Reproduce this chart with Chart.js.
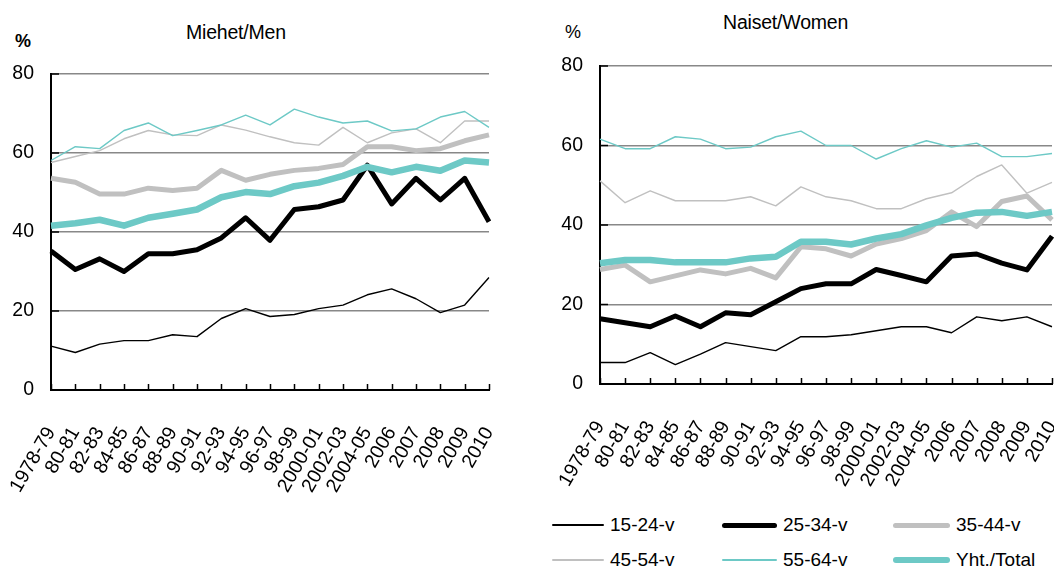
<!DOCTYPE html>
<html>
<head>
<meta charset="utf-8">
<script src="https://cdn.jsdelivr.net/npm/chart.js@4.4.1/dist/chart.umd.min.js"></script>
<style>
  html, body { margin: 0; padding: 0; background: #fff; }
  body { width: 1054px; height: 567px; position: relative; overflow: hidden;
         font-family: "Liberation Sans", Arial, sans-serif; color: #000; }
  .box { position: absolute; }
  .txt { position: absolute; white-space: nowrap; line-height: 1; }
  .legend-item { position: absolute; display: flex; align-items: center; font-size: 19px; white-space: nowrap; }
  .legend-item .sw { display: inline-block; border-radius: 4px; margin-right: 6px; }
</style>
</head>
<body>
<div class="txt" style="left:186px; top:23px; font-size:19.5px; letter-spacing:-0.2px;">Miehet/Men</div>
<div class="txt" style="left:15px; top:32px; font-size:18px; font-weight:bold;">%</div>
<div class="txt" style="left:723px; top:13px; font-size:19.5px; letter-spacing:-0.2px;">Naiset/Women</div>
<div class="txt" style="left:565px; top:23px; font-size:18px;">%</div>

<div class="box" style="left:0px; top:0px; width:500px; height:500px;"><canvas id="men"></canvas></div>
<div class="box" style="left:540px; top:0px; width:514px; height:500px;"><canvas id="women"></canvas></div>

<div id="legend"></div>

<script>
const categories = ['1978-79','80-81','82-83','84-85','86-87','88-89','90-91','92-93','94-95','96-97','98-99','2000-01','2002-03','2004-05','2006','2007','2008','2009','2010'];
const seriesNames = ['15-24-v','25-34-v','35-44-v','45-54-v','55-64-v','Yht./Total'];
const yTicks = [0, 20, 40, 60, 80];

const menAge15_24 = [11.1, 9.5, 11.6, 12.5, 12.5, 14.0, 13.5, 18.1, 20.6, 18.6, 19.1, 20.6, 21.5, 24.1, 25.6, 23.1, 19.6, 21.5, 28.5];
const menAge25_34 = [35.2, 30.5, 33.2, 30.0, 34.5, 34.5, 35.5, 38.5, 43.6, 37.9, 45.7, 46.4, 48.1, 56.9, 47.1, 53.6, 48.1, 53.6, 42.6];
const menAge35_44 = [53.6, 52.6, 49.6, 49.6, 51.1, 50.5, 51.1, 55.6, 53.1, 54.6, 55.6, 56.1, 57.1, 61.6, 61.6, 60.6, 61.1, 63.1, 64.6];
const menAge45_54 = [57.6, 59.1, 60.6, 63.6, 65.7, 64.6, 64.4, 67.1, 65.8, 64.1, 62.6, 62.0, 66.5, 62.6, 65.1, 66.1, 62.6, 68.1, 68.1];
const menAge55_64 = [58.1, 61.6, 61.1, 65.7, 67.6, 64.4, 65.7, 67.1, 69.6, 67.1, 71.1, 69.1, 67.6, 68.1, 65.6, 66.1, 69.1, 70.5, 66.5];
const menTotal    = [41.6, 42.2, 43.1, 41.6, 43.6, 44.6, 45.7, 48.8, 50.1, 49.6, 51.6, 52.5, 54.2, 56.5, 55.1, 56.5, 55.5, 58.1, 57.6];

const womenAge15_24 = [5.4, 5.4, 7.9, 4.9, 7.5, 10.4, 9.4, 8.4, 11.9, 11.9, 12.4, 13.4, 14.4, 14.4, 12.9, 16.9, 15.9, 16.9, 14.4];
const womenAge25_34 = [16.4, 15.4, 14.4, 17.1, 14.4, 17.9, 17.4, 20.7, 24.0, 25.2, 25.2, 28.8, 27.3, 25.7, 32.2, 32.7, 30.4, 28.7, 37.2];
const womenAge35_44 = [28.8, 29.9, 25.7, 27.2, 28.7, 27.7, 29.1, 26.7, 34.5, 34.0, 32.2, 35.2, 36.6, 38.6, 43.3, 39.6, 45.9, 47.3, 41.3];
const womenAge45_54 = [51.1, 45.6, 48.6, 46.1, 46.1, 46.1, 47.1, 44.8, 49.6, 47.1, 46.1, 44.1, 44.1, 46.6, 48.1, 52.2, 55.1, 48.0, 50.7];
const womenAge55_64 = [61.6, 59.2, 59.2, 62.2, 61.6, 59.2, 59.6, 62.2, 63.6, 60.0, 60.0, 56.6, 59.2, 61.2, 59.6, 60.6, 57.2, 57.2, 58.0];
const womenTotal    = [30.4, 31.2, 31.2, 30.6, 30.6, 30.6, 31.6, 32.0, 35.8, 35.8, 35.1, 36.6, 37.7, 39.9, 41.8, 43.1, 43.3, 42.3, 43.3];

const styles = [
  { color: '#000000', width: 1.4, order: 5 },
  { color: '#000000', width: 5,   order: 4 },
  { color: '#c0c0c0', width: 5,   order: 3 },
  { color: '#c0c0c0', width: 1.4, order: 2 },
  { color: '#6dc9c6', width: 1.4, order: 1 },
  { color: '#6dc9c6', width: 6.5, order: 0 }
];

const FONT = '"Liberation Sans", Arial, sans-serif';

const innerTicks = {
  id: 'innerTicks',
  afterDraw(chart) {
    const ctx = chart.ctx;
    const xs = chart.scales.x, ys = chart.scales.y;
    const area = chart.chartArea;
    ctx.save();
    ctx.strokeStyle = '#000';
    ctx.lineWidth = 1.5;
    ctx.beginPath();
    for (let i = 0; i < xs.ticks.length; i++) {
      const x = Math.round(xs.getPixelForTick(i)) + 0.5;
      ctx.moveTo(x, area.bottom);
      ctx.lineTo(x, area.bottom - 6);
    }
    for (let i = 0; i < ys.ticks.length; i++) {
      const y = ys.getPixelForTick(i);
      ctx.moveTo(area.left, y);
      ctx.lineTo(area.left + 8, y);
    }
    ctx.stroke();
    ctx.restore();
  }
};

function makeChart(id, data, pad, yWidth, xHeight) {
  const datasets = data.map((vals, i) => ({
    label: seriesNames[i],
    data: vals,
    borderColor: styles[i].color,
    backgroundColor: styles[i].color,
    borderWidth: styles[i].width,
    order: styles[i].order,
    pointRadius: 0,
    pointHoverRadius: 0,
    tension: 0,
    fill: false,
    borderJoinStyle: 'round',
    borderCapStyle: 'butt'
  }));
  return new Chart(document.getElementById(id), {
    type: 'line',
    data: { labels: categories, datasets },
    options: {
      responsive: true,
      maintainAspectRatio: false,
      animation: false,
      events: [],
      layout: { padding: pad },
      plugins: { legend: { display: false }, title: { display: false }, tooltip: { enabled: false } },
      scales: {
        x: {
          type: 'category',
          offset: false,
          grid: { display: false, drawTicks: false },
          border: { display: true, color: '#000', width: 2 },
          ticks: {
            autoSkip: false, minRotation: 60, maxRotation: 60, padding: 33,
            color: '#000', font: { family: FONT, size: 19.5 }
          },
          afterFit(scale) { scale.height = xHeight; scale.paddingLeft = 0; scale.paddingRight = 0; }
        },
        y: {
          min: 0, max: 80,
          afterBuildTicks(scale) { scale.ticks = yTicks.map(v => ({ value: v })); },
          grid: { color: '#888888', lineWidth: 1.4, drawTicks: false },
          border: { display: true, color: '#000', width: 2 },
          ticks: { padding: 17, color: '#000', font: { family: FONT, size: 19.5 } },
          afterFit(scale) { scale.width = yWidth; scale.paddingTop = 0; scale.paddingBottom = 0; }
        }
      }
    },
    plugins: [innerTicks]
  });
}

makeChart('men',
  [menAge15_24, menAge25_34, menAge35_44, menAge45_54, menAge55_64, menTotal],
  { left: 0, top: 74, right: 11, bottom: 0 }, 51, 110);
makeChart('women',
  [womenAge15_24, womenAge25_34, womenAge35_44, womenAge45_54, womenAge55_64, womenTotal],
  { left: 0, top: 66, right: 2, bottom: 0 }, 60, 116);

// HTML legend
const legendPos = [
  { left: 552, top: 514, lw: 52 }, { left: 722, top: 514, lw: 55 }, { left: 893, top: 514, lw: 57 },
  { left: 552, top: 549, lw: 52 }, { left: 722, top: 549, lw: 55 }, { left: 893, top: 549, lw: 57 }
];
const legendEl = document.getElementById('legend');
seriesNames.forEach((name, si) => {
  const p = legendPos[si];
  const item = document.createElement('div');
  item.className = 'legend-item';
  item.style.left = p.left + 'px';
  item.style.top = p.top + 'px';
  item.style.height = '22px';
  const sw = document.createElement('span');
  sw.className = 'sw';
  sw.style.width = p.lw + 'px';
  sw.style.height = styles[si].width + 'px';
  sw.style.background = styles[si].color;
  const t = document.createElement('span');
  t.textContent = name;
  item.appendChild(sw);
  item.appendChild(t);
  legendEl.appendChild(item);
});
</script>
</body>
</html>
